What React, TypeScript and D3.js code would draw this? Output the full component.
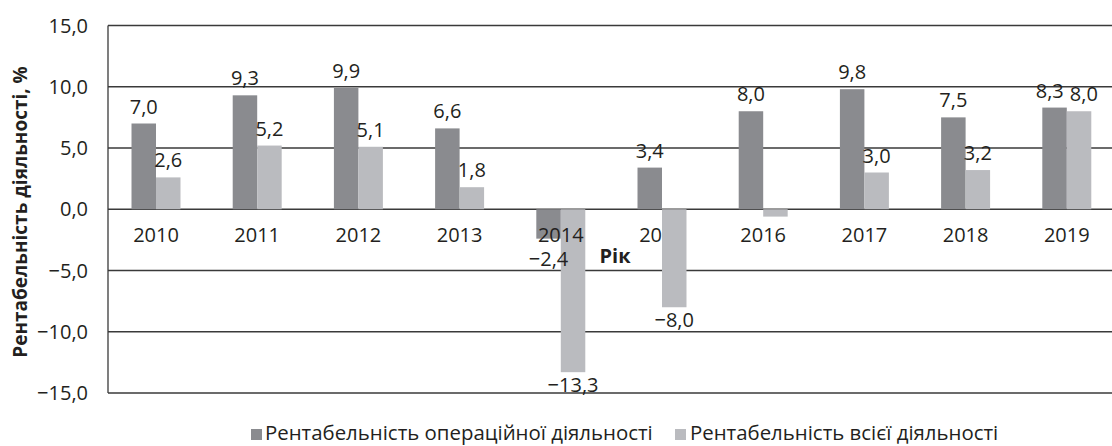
import React from "react";
import * as d3 from "d3";

const years = ["2010", "2011", "2012", "2013", "2014", "2015", "2016", "2017", "2018", "2019"];
const operatingValues = [7.0, 9.3, 9.9, 6.6, -2.4, 3.4, 8.0, 9.8, 7.5, 8.3];
const totalValues = [2.6, 5.2, 5.1, 1.8, -13.3, -8.0, -0.6, 3.0, 3.2, 8.0];
const yTicks = [15, 10, 5, 0, -5, -10, -15];
const seriesNames = ["Рентабельність операційної діяльності", "Рентабельність всієї діяльності"];
const yTitle = "Рентабельність діяльності, %";
const xTitle = "Рік";
// category labels partly covered by the light bar in the source
const labelsUnderBars = ["2015"];
// value labels not shown in the source
const hiddenTotalLabels = ["2016"];

const W = 1112;
const H = 446;
const FONT = "'Open Sans', 'Noto Sans', sans-serif";
const TEXT = "#231f20";
const DARK = "#8a8b8f";
const LIGHT = "#babbbf";
const GRID = "#3a3a3a";
const LABEL_SIZE = 20;

const fmt = (v: number) => d3.format(".1f")(v).replace(".", ",").replace("-", "–");
// approximate rendered width of a numeric label
const labelWidth = (s: string) =>
  Array.from(s).reduce((w, c) => w + (c === "," ? 0.26 : c === "–" ? 0.5 : 0.572), 0) * LABEL_SIZE;

export default function App() {
  const plotLeft = 108;
  const plotRight = W;
  const y = d3.scaleLinear().domain([-15, 15]).range([393, 25.5]);
  const x = d3
    .scaleBand<string>()
    .domain(years)
    .range([105.4, 1117.4])
    .paddingInner(0.516)
    .paddingOuter(0.258);
  const sub = d3.scaleBand<string>().domain(["op", "all"]).range([0, x.bandwidth()]);
  const y0 = y(0);
  const catBaseline = y0 + 33;

  const rows = years.map((yr, i) => ({ yr, op: operatingValues[i], all: totalValues[i] }));

  const bar = (yr: string, key: string, v: number, fill: string) => (
    <rect
      key={yr + key}
      x={(x(yr) as number) + (sub(key) as number)}
      y={Math.min(y(v), y0)}
      width={sub.bandwidth()}
      height={Math.abs(y(v) - y0)}
      fill={fill}
    />
  );

  const catLabel = (yr: string) => (
    <text
      key={"c" + yr}
      x={(x(yr) as number) + x.bandwidth() / 2}
      y={catBaseline}
      textAnchor="middle"
      fontSize={20}
      fill={TEXT}
    >
      {yr}
    </text>
  );

  const labelPos = (yr: string, key: string, v: number) => ({
    cx: (x(yr) as number) + (sub(key) as number) + sub.bandwidth() / 2,
    // negative labels are kept below the category labels
    ty: v >= 0 ? y(v) - 10 : Math.max(y(v) + 20, catBaseline + 24),
    s: fmt(v),
  });

  const valueLabels: { key: string; cx: number; ty: number; s: string }[] = [];
  rows.forEach((r) => {
    const a = labelPos(r.yr, "op", r.op);
    const showAll = !hiddenTotalLabels.includes(r.yr);
    const b = labelPos(r.yr, "all", r.all);
    if (showAll && Math.abs(a.ty - b.ty) < 18) {
      const gap = b.cx - a.cx - (labelWidth(a.s) + labelWidth(b.s)) / 2;
      if (gap < 6) {
        const push = (6 - gap) / 2;
        a.cx -= push;
        b.cx += push;
      }
    }
    valueLabels.push({ key: r.yr + "op", ...a });
    if (showAll) valueLabels.push({ key: r.yr + "all", ...b });
  });

  return (
    <svg
      width={W}
      height={H}
      style={{ position: "absolute", left: 0, top: 0, background: "#fff" }}
      fontFamily={FONT}
    >
      <rect x={0} y={0} width={W} height={H} fill="#fff" />
      {/* gridlines */}
      {yTicks.map((t) => (
        <line key={"g" + t} x1={plotLeft} x2={plotRight} y1={y(t)} y2={y(t)} stroke={GRID} strokeWidth={1.3} />
      ))}
      <line x1={plotLeft} x2={plotLeft} y1={y(15)} y2={y(-15)} stroke={GRID} strokeWidth={1.3} />
      {/* y tick labels */}
      {yTicks.map((t) => (
        <text key={"t" + t} x={88} y={y(t)} dy="0.36em" textAnchor="end" fontSize={20} fill={TEXT}>
          {fmt(t)}
        </text>
      ))}
      {/* y title */}
      <text
        transform={`translate(27,${212}) rotate(-90)`}
        textAnchor="middle"
        fontSize={19}
        fontWeight="bold"
        fill={TEXT}
      >
        {yTitle}
      </text>
      {/* bars and labels */}
      {rows.map((r) => bar(r.yr, "op", r.op, DARK))}
      {rows.filter((r) => labelsUnderBars.includes(r.yr)).map((r) => catLabel(r.yr))}
      {rows.map((r) => bar(r.yr, "all", r.all, LIGHT))}
      {rows.filter((r) => !labelsUnderBars.includes(r.yr)).map((r) => catLabel(r.yr))}
      {valueLabels.map((l) => (
        <text key={"v" + l.key} x={l.cx} y={l.ty} textAnchor="middle" fontSize={LABEL_SIZE} fill={TEXT}>
          {l.s}
        </text>
      ))}
      {/* x title */}
      <text x={615} y={263} textAnchor="middle" fontSize={20} fontWeight="bold" fill={TEXT}>
        {xTitle}
      </text>
      {/* legend */}
      <g>
        <rect x={251} y={429} width={11} height={11} fill={DARK} />
        <text x={265} y={440} fontSize={20.4} fill={TEXT}>
          {seriesNames[0]}
        </text>
        <rect x={675} y={429} width={11} height={11} fill={LIGHT} />
        <text x={690} y={440} fontSize={20.4} fill={TEXT}>
          {seriesNames[1]}
        </text>
      </g>
    </svg>
  );
}
